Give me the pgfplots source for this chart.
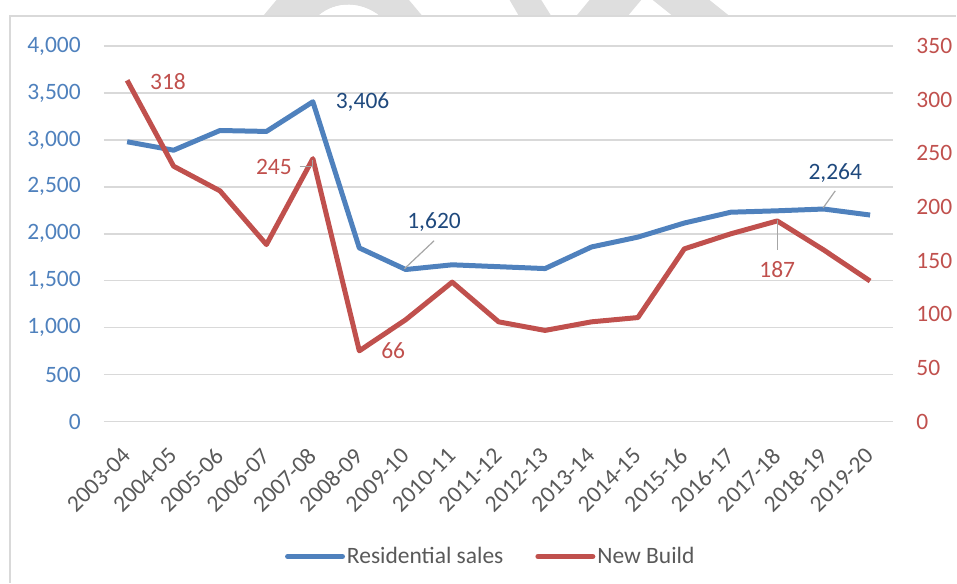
\documentclass[border=0pt]{standalone}
\usepackage{pgfplots}
\pgfplotsset{compat=1.18}
\usepackage{fontspec}
\setmainfont{Carlito}
\definecolor{sblue}{HTML}{4F81BD}
\definecolor{sred}{HTML}{C0504D}
\definecolor{lblue}{HTML}{1F497D}
\definecolor{tgray}{HTML}{595959}
\definecolor{ggray}{HTML}{D9D9D9}
\definecolor{lgray}{HTML}{A6A6A6}
\definecolor{wgray}{HTML}{DEDEDE}
\newcommand{\ff}{\fontsize{23.5bp}{28bp}\selectfont}
\begin{document}
\begin{tikzpicture}
\path (0bp,0bp) rectangle (957bp,583bp);
% faint watermark fragments above the chart frame
\begin{scope}[x=1bp,y=-1bp,shift={(0bp,583bp)}]
\fill[wgray] (276.7,0) -- (409.3,0) -- (422.7,16) -- (380,16) .. controls (362,2) and (337,0) .. (318.3,16) -- (263.3,16) -- cycle;
\fill[white] (318.3,16) .. controls (337,0) and (362,2) .. (380,16) -- cycle;
\fill[wgray] (510,0) -- (541.7,0) -- (551.7,16) -- (519.3,16) -- cycle;
\fill[wgray] (590,0) -- (641.7,0) -- (628.3,16) -- (576.7,16) -- cycle;
\fill[wgray] (653.3,0) -- (710,0) -- (730,16) -- (673.3,16) -- cycle;
\end{scope}
\draw[ggray, line width=1.5bp] (10bp,0bp) -- (10bp,567bp) -- (957bp,567bp);
\begin{axis}[
  at={(104bp,161bp)}, anchor=south west, scale only axis,
  width=790bp, height=376bp,
  xmin=-0.5, xmax=16.5, ymin=0, ymax=4000,
  xtick={0,...,16},
  xticklabels={2003-04,2004-05,2005-06,2006-07,2007-08,2008-09,2009-10,2010-11,2011-12,2012-13,2013-14,2014-15,2015-16,2016-17,2017-18,2018-19,2019-20},
  ytick={0,500,...,4000},
  scaled y ticks=false,
  axis line style={draw=none},
  major tick length=0pt,
  ymajorgrids, grid style={ggray, line width=1.4bp},
  /pgf/number format/1000 sep={,},
  /pgf/number format/assume math mode=true,
  tick label style={font=\ff},
  xticklabel style={rotate=45, anchor=east, inner sep=0pt, text=tgray, xshift=-22bp, yshift=-21bp},
  yticklabel style={text=sblue, inner sep=0pt, xshift=-23bp},
  clip=false,
]
\addplot[sblue, line width=5bp, line join=round] coordinates {
(0,2980) (1,2890) (2,3100) (3,3090) (4,3406) (5,1850) (6,1620) (7,1670) (8,1650)
(9,1630) (10,1860) (11,1965) (12,2115) (13,2230) (14,2245) (15,2264) (16,2200)};
\end{axis}
\begin{axis}[
  at={(104bp,161bp)}, anchor=south west, scale only axis,
  width=790bp, height=376bp,
  xmin=-0.5, xmax=16.5, ymin=0, ymax=350,
  hide x axis,
  axis y line*=right,
  ytick={0,50,...,350},
  axis line style={draw=none},
  major tick length=0pt,
  /pgf/number format/assume math mode=true,
  tick label style={font=\ff},
  yticklabel style={text=sred, inner sep=0pt, xshift=23bp},
  clip=false,
  legend style={at={(0.490,-0.359)}, anchor=center, draw=none, fill=none,
    font=\ff, text=tgray, legend columns=2,
    /tikz/every even column/.append style={column sep=30bp}},
  legend image code/.code={\draw[#1, line cap=round] (0bp,0bp) -- (55bp,0bp);},
]
\addlegendimage{sblue, line width=5bp}
\addlegendentry{Residential sales}
\addplot[sred, line width=5bp, line join=round] coordinates {
(0,318) (1,238) (2,215) (3,165) (4,245) (5,66) (6,95) (7,130) (8,93)
(9,85) (10,93) (11,97) (12,161) (13,175) (14,187) (15,160) (16,131)};
\addlegendentry{New Build}
% leader lines
\draw[lgray, line width=1.2bp] (axis cs:3.715,237.4) -- (axis cs:4,237.4) -- (axis cs:4,243.5);
\draw[lgray, line width=1.2bp] (axis cs:5.97,142.4) -- (axis cs:6.61,168.5);
\draw[lgray, line width=1.2bp] (axis cs:14.0,188.0) -- (axis cs:14.0,160.1);
\draw[lgray, line width=1.2bp] (axis cs:14.99,199.2) -- (axis cs:15.25,215.0);
% data labels
\node[text=sred, font=\ff] at (axis cs:0.88,316.5) {318};
\node[text=lblue, font=\ff] at (axis cs:5.07,297.9) {3,406};
\node[text=sred, font=\ff] at (axis cs:3.16,237.4) {245};
\node[text=lblue, font=\ff] at (axis cs:6.61,186.2) {1,620};
\node[text=sred, font=\ff] at (axis cs:5.73,66.1) {66};
\node[text=sred, font=\ff] at (axis cs:14.0,141.5) {187};
\node[text=lblue, font=\ff] at (axis cs:15.25,231.8) {2,264};
\end{axis}
\end{tikzpicture}
\end{document}
